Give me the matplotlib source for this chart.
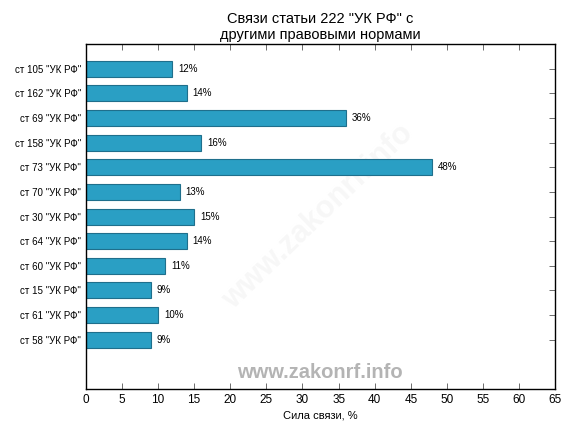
import matplotlib
matplotlib.use('Agg')
import matplotlib.pyplot as plt

plt.rcParams['font.family'] = ['Liberation Sans', 'DejaVu Sans']

# Данные (сверху вниз)
labels = ['ст 105 "УК РФ"', 'ст 162 "УК РФ"', 'ст 69 "УК РФ"', 'ст 158 "УК РФ"',
          'ст 73 "УК РФ"', 'ст 70 "УК РФ"', 'ст 30 "УК РФ"', 'ст 64 "УК РФ"',
          'ст 60 "УК РФ"', 'ст 15 "УК РФ"', 'ст 61 "УК РФ"', 'ст 58 "УК РФ"']
values = [12, 14, 36, 16, 48, 13, 15, 14, 11, 9, 10, 9]
xticks = list(range(0, 70, 5))

fig = plt.figure(figsize=(5.76, 4.32), dpi=100)
ax = fig.add_axes([0.149, 0.0995, 0.815, 0.7985])

pos = list(range(1, len(values) + 1))
ax.barh(pos, values, height=0.65, color='#2a9fc4', edgecolor='#1f6f8c', linewidth=0.8, zorder=2)

for p, v in zip(pos, values):
    ax.text(v + 0.8, p, f'{v}%', va='center', ha='left', fontsize=7, zorder=3)

ax.set_ylim(14, 0)
ax.set_xlim(0, 65)
ax.set_yticks(pos)
ax.set_yticklabels(labels, fontsize=7)
ax.set_xticks(xticks)
ax.tick_params(axis='x', labelsize=8.5)
ax.tick_params(direction='in', top=True, right=True, length=4, width=0.6, color='#555555')
for s in ax.spines.values():
    s.set_linewidth(1.0)

ax.set_xlabel('Сила связи, %', fontsize=8, labelpad=3)
ax.set_title('Связи статьи 222 "УК РФ" с\nдругими правовыми нормами', fontsize=10.5, linespacing=1.1, pad=4)

# водяные знаки
fig.text(0.555, 0.138, 'www.zakonrf.info', fontsize=14.5, fontweight='bold', color='#b4b4b4',
         ha='center', va='center')
ax.text(0.552, 0.498, 'www.zakonrf.info', fontsize=22, fontweight='bold', color='#f7f7f7',
        ha='center', va='center', rotation=44, zorder=1, transform=fig.transFigure)

fig.savefig('out.png', dpi=100)
